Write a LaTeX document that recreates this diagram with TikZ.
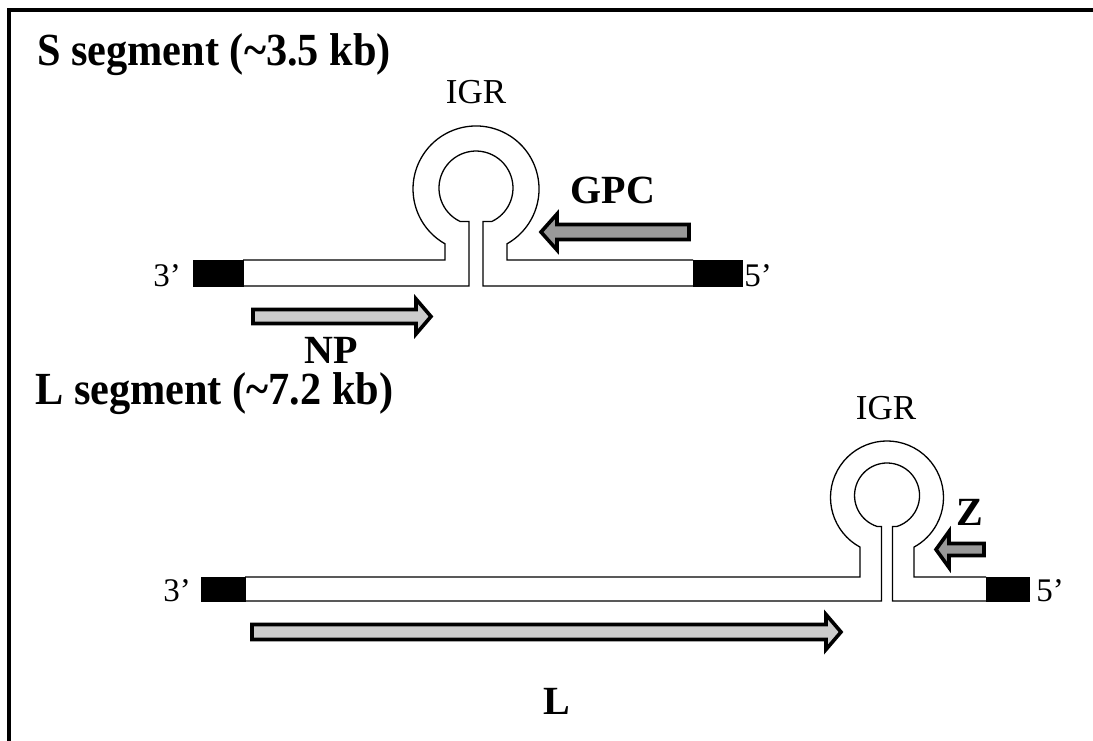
\documentclass[tikz,border=0pt]{standalone}
\usepackage{fontspec}
\setmainfont{Liberation Serif}
\begin{document}
\begin{tikzpicture}[x=1pt,y=1pt,
  strand/.style={line width=1.3pt},
  endbox/.style={fill=black,draw=black,line width=1pt},
  orf/.style={draw=black,line width=3.6pt,line join=miter},
  lightorf/.style={orf,fill=black!20},
  darkorf/.style={orf,fill=black!40},
  title/.style={anchor=base west,inner sep=0pt,font=\fontsize{46}{52}\selectfont\bfseries},
  genelabel/.style={anchor=base,inner sep=0pt,font=\fontsize{40}{46}\selectfont\bfseries},
  igrlabel/.style={anchor=base,inner sep=0pt,font=\fontsize{35}{40}\selectfont},
  endlabel/.style={anchor=base,inner sep=0pt,font=\fontsize{33}{38}\selectfont}]
\useasboundingbox (0,0) rectangle (1093,-740);
\fill[white] (-10,10) rectangle (1110,-760);
% frame (top and left sides visible)
\draw[line width=4pt] (1110,-10) -- (9,-10) -- (9,-760);

% ---------- S segment ----------
\node[title] (stitle) at (37,-65) {\scalebox{0.92}[1]{S segment (\textasciitilde3.5 kb)}};
\node[igrlabel] (sigr) at (476,-103) {IGR};
% outer strand
\draw[strand] (243,-260) -- (445,-260) -- (445,-243.8)
  arc[start angle=240.5,end angle=-60.5,radius=63] -- (507,-260) -- (693,-260);
% inner strand
\draw[strand] (243,-286) -- (469,-286) -- (469,-221.4) -- (460,-221.4)
  arc[start angle=244.4,end angle=-64.4,radius=37] -- (483,-221.4) -- (483,-286) -- (693,-286);
\draw[endbox] (193,-260) rectangle (243,-286);
\draw[endbox] (693,-260) rectangle (742,-286);
\node[endlabel] (s3) at (167,-286) {3’};
\node[endlabel] (s5) at (758,-286) {5’};
% GPC arrow
\draw[darkorf] (689,-224.5) -- (557,-224.5) -- (557,-214) -- (541,-232) -- (557,-250) -- (557,-239.5) -- (689,-239.5) -- cycle;
\node[genelabel] (gpc) at (613,-203) {GPC};
% NP arrow
\draw[lightorf] (253,-309.5) -- (416,-309.5) -- (416,-299) -- (431,-316.5) -- (416,-334) -- (416,-323.5) -- (253,-323.5) -- cycle;
\node[genelabel] (np) at (331,-363) {NP};

% ---------- L segment ----------
\node[title] (ltitle) at (35,-404) {\scalebox{0.92}[1]{L segment (\textasciitilde7.2 kb)}};
\node[igrlabel] (ligr) at (886,-419) {IGR};
\draw[strand] (245,-577) -- (860,-577) -- (860,-547.1)
  arc[start angle=241.45,end angle=-61.45,radius=56.5] -- (914,-577) -- (986,-577);
\draw[strand] (245,-601) -- (881.5,-601) -- (881.5,-526.4) -- (877,-526.4)
  arc[start angle=252,end angle=-72,radius=32.5] -- (892.5,-526.4) -- (892.5,-601) -- (986,-601);
\draw[endbox] (201,-577) rectangle (245,-601);
\draw[endbox] (986,-577) rectangle (1029,-601);
\node[endlabel] (l3) at (177,-601) {3’};
\node[endlabel] (l5) at (1050,-601) {5’};
% Z arrow
\draw[darkorf] (984,-543.5) -- (949,-543.5) -- (949,-531.5) -- (936,-549.5) -- (949,-567.5) -- (949,-555.5) -- (984,-555.5) -- cycle;
\node[genelabel] (z) at (970,-525) {Z};
% L arrow
\draw[lightorf] (252,-624.5) -- (826,-624.5) -- (826,-614.5) -- (841,-632) -- (826,-649.5) -- (826,-639.5) -- (252,-639.5) -- cycle;
\node[genelabel] (lgene) at (557,-714) {L};
\end{tikzpicture}
\end{document}
